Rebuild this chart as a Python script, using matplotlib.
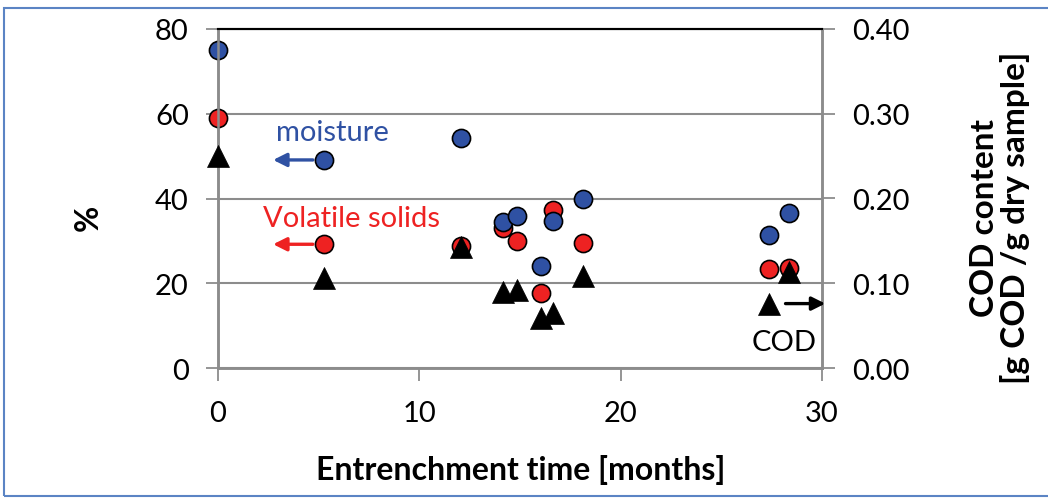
import matplotlib
matplotlib.use("Agg")
import matplotlib.pyplot as plt
from matplotlib.patches import Rectangle

plt.rcParams['font.family'] = ['Lato', 'DejaVu Sans']

# Entrenchment time [months] for each sample
months = [0.0, 5.27, 12.07, 14.16, 14.85, 16.06, 16.64, 18.13, 27.37, 28.37]
# Moisture [%]
moisture = [75.0, 49.1, 54.3, 34.5, 35.9, 24.0, 34.6, 40.0, 31.5, 36.5]
# Volatile solids [%]
volatile_solids = [59.0, 29.2, 28.8, 33.0, 30.0, 17.7, 37.3, 29.6, 23.4, 23.6]
# COD content [g COD / g dry sample]
cod = [0.250, 0.106, 0.143, 0.090, 0.092, 0.059, 0.065, 0.109, 0.076, 0.113]

x_ticks = [0, 10, 20, 30]
left_ticks = [0, 20, 40, 60, 80]
right_ticks = [0.0, 0.1, 0.2, 0.3, 0.4]

BLUE = '#2f51a3'
RED = '#ee2222'
GRID = '#8c8c8c'

fig = plt.figure(figsize=(10.48, 5.02), dpi=100)
ax = fig.add_axes([218/1048, 1-369/502, (822-218)/1048, (369-30)/502])
ax2 = ax.twinx()

ax.scatter(months, volatile_solids, s=170, color=RED, edgecolor='black', linewidth=1.2,
           zorder=3, clip_on=False)
ax.scatter(months, moisture, s=170, color=BLUE, edgecolor='black', linewidth=1.2,
           zorder=4, clip_on=False)
ax2.scatter(months, cod, s=250, marker='^', color='black', edgecolor='black', linewidth=0.5,
            zorder=5, clip_on=False)

ax.set_xlim(0, 30)
ax.set_ylim(0, 80)
ax2.set_ylim(0, 0.40)
ax.set_xticks(x_ticks)
ax.set_yticks(left_ticks)
ax2.set_yticks(right_ticks)
ax2.set_yticklabels([f'{v:.2f}' for v in right_ticks])

ax.grid(axis='y', color=GRID, linewidth=1.5)
ax.set_axisbelow(True)

for a in (ax, ax2):
    for side in ('left', 'right', 'bottom'):
        a.spines[side].set_color(GRID)
        a.spines[side].set_linewidth(1.8)
    a.spines['top'].set_color('black')
    a.spines['top'].set_linewidth(1.5)

ax.tick_params(axis='both', direction='out', length=9, width=1.3, color=GRID,
               labelsize=21, pad=12)
ax.tick_params(axis='x', pad=14)
ax2.tick_params(axis='y', direction='out', length=9, width=1.3, color=GRID,
                labelsize=21, pad=13)

# Axis titles
fig.text(521/1048, 1-470/502, 'Entrenchment time [months]', fontsize=23,
         fontweight='bold', ha='center', va='center')
fig.text(88/1048, 1-218/502, '%', fontsize=23, fontweight='bold', rotation=90,
         ha='center', va='center')
fig.text(1000/1048, 1-218/502, 'COD content\n[g COD /g dry sample]', fontsize=24,
         fontweight='bold', rotation=90, ha='center', va='center', multialignment='center',
         linespacing=1.05)

# Series labels with arrows pointing to their axis
ax.text(5.7, 55.7, 'moisture', color=BLUE, fontsize=21, ha='center', va='center')
ax.annotate('', xy=(2.6, moisture[1]), xytext=(4.85, moisture[1]),
            arrowprops=dict(arrowstyle='-|>', color=BLUE, lw=2.4, mutation_scale=20))
ax.text(6.65, 35.3, 'Volatile solids', color=RED, fontsize=21, ha='center', va='center')
ax.annotate('', xy=(2.6, volatile_solids[1]), xytext=(4.85, volatile_solids[1]),
            arrowprops=dict(arrowstyle='-|>', color=RED, lw=2.4, mutation_scale=20))
ax2.text(28.1, 0.031, 'COD', color='black', fontsize=21, ha='center', va='center')
ax2.annotate('', xy=(30.3, cod[8]), xytext=(28.05, cod[8]),
             arrowprops=dict(arrowstyle='-|>', color='black', lw=2.4, mutation_scale=20),
             annotation_clip=False)

# Chart frame
fig.add_artist(Rectangle((4/1048, 1 - 497/502), 1.1, 488/502, transform=fig.transFigure,
                         fill=False, edgecolor='#5b84c4', linewidth=1.5))

fig.savefig('out.png', dpi=100)
